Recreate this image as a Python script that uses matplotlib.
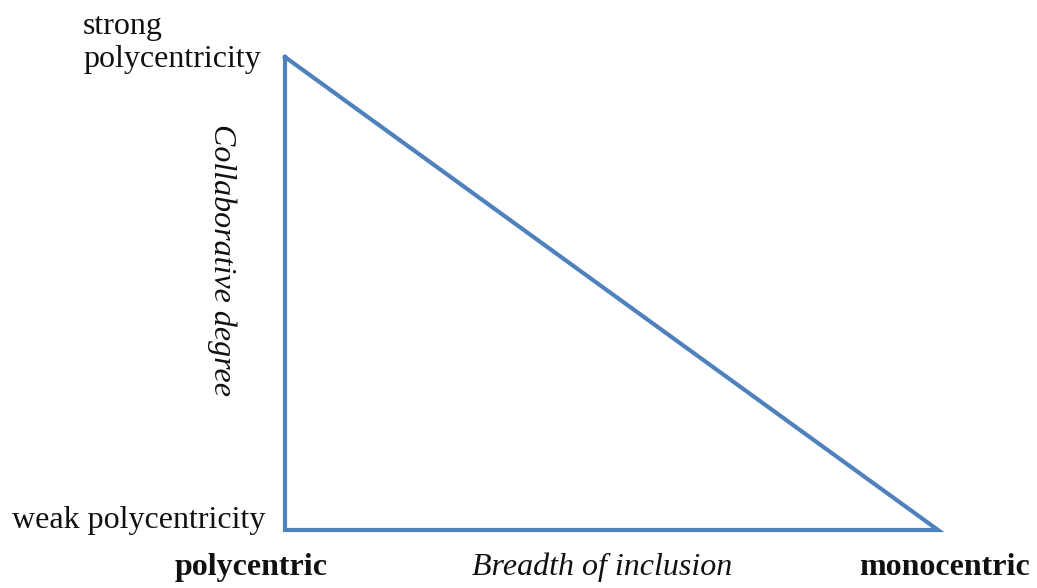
import matplotlib.pyplot as plt

# triangle corners in (breadth of inclusion, collaborative degree)
breadth = [0, 0, 1, 0]
degree = [1, 0, 0, 1]

y_labels = ["strong\npolycentricity", "weak polycentricity"]
x_labels = ["polycentric", "Breadth of inclusion", "monocentric"]
y_title = "Collaborative degree"

plt.rcParams['font.family'] = ['Liberation Serif', 'DejaVu Serif']

W, H = 1037, 588
fig = plt.figure(figsize=(W / 100, H / 100), dpi=100)
ax = fig.add_axes([285 / W, (H - 530) / H, (938 - 285) / W, (530 - 57) / H])
ax.plot(breadth, degree, color='#4F81BD', lw=3.0, solid_joinstyle='miter', clip_on=False)
ax.set_xlim(0, 1)
ax.set_ylim(0, 1)
ax.axis('off')

fs = 23
tc = '#111111'
fig.text(83 / W, 1 - 67 / H, y_labels[0], fontsize=fs, color=tc, ha='left', va='baseline',
         linespacing=1.2)
fig.text(12 / W, 1 - 528 / H, y_labels[1], fontsize=fs, color=tc, ha='left', va='baseline')
fig.text(175 / W, 1 - 575 / H, x_labels[0], fontsize=fs, color=tc, ha='left', va='baseline',
         fontweight='bold')
fig.text(602 / W, 1 - 575 / H, x_labels[1], fontsize=fs, color=tc, ha='center', va='baseline',
         style='italic')
fig.text(1030 / W, 1 - 575 / H, x_labels[2], fontsize=fs, color=tc, ha='right', va='baseline',
         fontweight='bold')
fig.text(222 / W, 1 - 260 / H, y_title, fontsize=fs, color=tc, ha='center', va='center',
         rotation=270, style='italic')

fig.savefig('out.png', dpi=100, facecolor='white')
